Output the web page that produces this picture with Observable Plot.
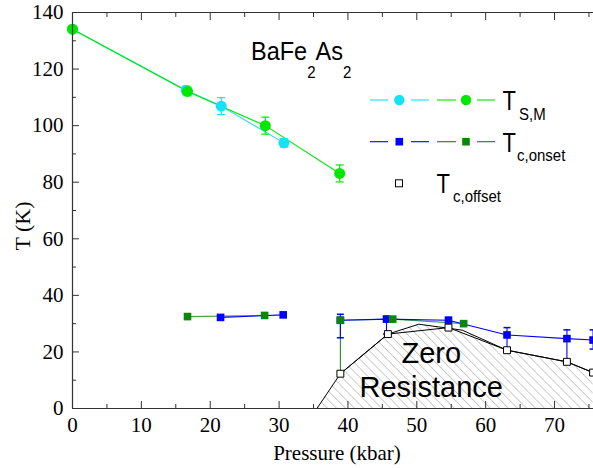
<!DOCTYPE html>
<html><head><meta charset="utf-8">
<script src="https://cdn.jsdelivr.net/npm/d3@7"></script>
<script src="https://cdn.jsdelivr.net/npm/@observablehq/plot@0.6"></script>
<style>body{margin:0;background:#fff} #chart svg{display:block}</style>
</head><body><div id="chart"></div>
<script>
// ---- data ----
const tsmCyanP   = [0, 16.5, 21.6, 30.7];
const tsmCyanT   = [134.1, 112.5, 106.9, 93.9];
const tsmCyanErr = [0, 1.5, 3, 1.5];
const tsmGreenP   = [0, 16.7, 28.0, 38.8];
const tsmGreenT   = [134.1, 112.1, 100.0, 83.1];
const tsmGreenErr = [0, 1.5, 3, 3];

const onsetBlueP   = [21.5, 30.6, 38.9, 45.6, 54.6, 63.1, 71.8, 75.6];
const onsetBlueT   = [32.2, 33.1, 31.2, 31.6, 31.2, 26.0, 24.7, 24.2];
const onsetBlueLo  = [null, null, 25.0, 26.3, 28.6, 21.4, 16.7, 21.0];
const onsetBlueHi  = [null, null, 33.3, 32.6, 32.2, 28.6, 27.8, 27.8];
const onsetBlueSeg = [0, 0, 1, 1, 1, 1, 1, 1];
const onsetGreenP   = [16.7, 27.9, 38.9, 46.5, 56.8];
const onsetGreenT   = [32.5, 32.9, 31.2, 31.6, 30.0];
const onsetGreenLo  = [null, null, 12.3, null, null];
const onsetGreenSeg = [0, 0, 1, 1, 1];

const offsetP = [38.9, 45.8, 54.6, 63.1, 71.8, 75.6];
const offsetT = [12.3, 26.3, 28.6, 20.6, 16.5, 12.7];

const zeroBoundP = [35.5, 38.9, 45.8, 50.3, 56.6, 63.1, 71.8, 75.6];
const zeroBoundT = [0, 12.3, 26.3, 29.8, 27.7, 20.6, 16.5, 12.7];

const xTicks = [0, 10, 20, 30, 40, 50, 60, 70];
const xMinor = [5, 15, 25, 35, 45, 55, 65, 75];
const yTicks = [0, 20, 40, 60, 80, 100, 120, 140];
const yMinor = [10, 30, 50, 70, 90, 110, 130];

const xLabel = "Pressure (kbar)";
const yLabel = "T (K)";
const zeroText = "Zero\nResistance";
const zeroPos = {p: 52.1, t: 14.0};

// ---- styles ----
const C_CYAN = "#12e4f6", C_LIME = "#00e800", C_BLUE = "#0000ff", C_DGREEN = "#0a870a";
const SANS = "Liberation Sans, Arimo, Arial, sans-serif";
const SERIF = "Liberation Serif, Tinos, Times New Roman, serif";

// ---- tables ----
const tsm = [
  ...tsmCyanP.map((p, i) => ({p, t: tsmCyanT[i], e: tsmCyanErr[i], s: "cyan"})),
  ...tsmGreenP.map((p, i) => ({p, t: tsmGreenT[i], e: tsmGreenErr[i], s: "lime"}))
];
const tsmErr = tsm.filter(d => d.e > 0).map(d => ({p: d.p, lo: d.t - d.e, hi: d.t + d.e, s: d.s}));
const blue = onsetBlueP.map((p, i) => ({p, t: onsetBlueT[i], lo: onsetBlueLo[i], hi: onsetBlueHi[i], seg: onsetBlueSeg[i]}));
const dgreen = onsetGreenP.map((p, i) => ({p, t: onsetGreenT[i], lo: onsetGreenLo[i], seg: onsetGreenSeg[i]}));
const offset = offsetP.map((p, i) => ({p, t: offsetT[i]}));
const bound = zeroBoundP.map((p, i) => ({p, t: zeroBoundT[i]}));
const blueErr = blue.filter(d => d.lo != null);
const greenErr = dgreen.filter(d => d.lo != null);

const capSymbol = {draw(ctx, size) { const r = Math.sqrt(size / Math.PI); ctx.moveTo(-r, 0); ctx.lineTo(r, 0); }};
const colorOf = s => s === "cyan" ? C_CYAN : C_LIME;

const plot = Plot.plot({
  width: 593, height: 468,
  marginLeft: 72, marginRight: 0, marginTop: 12, marginBottom: 60,
  x: {domain: [0, 75.66]},
  y: {domain: [0, 140]},
  style: {fontFamily: SERIF, fontSize: "21px", background: "#fff", color: "#000", overflow: "hidden"},
  marks: [
    Plot.areaY(bound, {x: "p", y: "t", fill: "url(#hatch)", clip: true}),
    Plot.line(bound, {x: "p", y: "t", stroke: "#000", strokeWidth: 1, clip: true}),
    Plot.text([zeroPos], {x: "p", y: "t", text: () => zeroText, fontFamily: SANS, fontSize: 29, lineHeight: 1.2, fill: "#000"}),
    // T_S,M
    Plot.line(tsm, {x: "p", y: "t", z: "s", stroke: d => colorOf(d.s), strokeWidth: 1.1, clip: true}),
    Plot.ruleX(tsmErr, {x: "p", y1: "lo", y2: "hi", stroke: d => colorOf(d.s), strokeWidth: 1.2}),
    Plot.dot(tsmErr, {x: "p", y: "lo", symbol: capSymbol, r: 4, stroke: d => colorOf(d.s), fill: "none", strokeWidth: 1.2}),
    Plot.dot(tsmErr, {x: "p", y: "hi", symbol: capSymbol, r: 4, stroke: d => colorOf(d.s), fill: "none", strokeWidth: 1.2}),
    Plot.dot(tsm.filter(d => d.s === "cyan"), {x: "p", y: "t", r: 5.5, fill: C_CYAN, stroke: "none"}),
    Plot.dot(tsm.filter(d => d.s === "lime"), {x: "p", y: "t", r: 5.5, fill: C_LIME, stroke: "none"}),
    // T_c,offset
    Plot.line(offset, {x: "p", y: "t", stroke: "#000", strokeWidth: 1, clip: true}),
    // T_c,onset
    Plot.line(dgreen, {x: "p", y: "t", z: "seg", stroke: C_DGREEN, strokeOpacity: 0.75, strokeWidth: 1.2, clip: true}),
    Plot.ruleX(greenErr, {x: "p", y1: "lo", y2: "t", stroke: C_DGREEN, strokeWidth: 1}),
    Plot.line(blue, {x: "p", y: "t", z: "seg", stroke: C_BLUE, strokeWidth: 1.1, clip: true}),
    Plot.ruleX(blueErr, {x: "p", y1: "lo", y2: "hi", stroke: C_BLUE, strokeWidth: 1.1, clip: true}),
    Plot.dot(blueErr, {x: "p", y: "lo", symbol: capSymbol, r: 3.5, stroke: C_BLUE, fill: "none", clip: true}),
    Plot.dot(blueErr, {x: "p", y: "hi", symbol: capSymbol, r: 3.5, stroke: C_BLUE, fill: "none", clip: true}),
    Plot.dot(offset, {x: "p", y: "t", symbol: "square", r: 3.9, fill: "#fff", stroke: "#000", strokeWidth: 1, clip: true}),
    Plot.dot(blue, {x: "p", y: "t", symbol: "square", r: 4.3, fill: C_BLUE, stroke: "none", clip: true}),
    Plot.dot(dgreen, {x: "p", y: "t", symbol: "square", r: 4.3, fill: C_DGREEN, stroke: "none", clip: true}),
    // frame & axes
    Plot.ruleX([0], {stroke: "#333", strokeWidth: 1.2}),
    Plot.ruleY([0], {stroke: "#333", strokeWidth: 1.2}),
    Plot.ruleY([140], {stroke: "#333", strokeWidth: 1.2}),
    Plot.axisX({ticks: xTicks, tickSize: -7, fill: "none", label: null, stroke: "#333"}),
    Plot.axisX({ticks: xMinor, tickSize: -4, fill: "none", label: null, stroke: "#333"}),
    Plot.axisX({anchor: "top", ticks: xTicks, tickSize: -7, fill: "none", label: null, stroke: "#333"}),
    Plot.axisX({anchor: "top", ticks: xMinor, tickSize: -4, fill: "none", label: null, stroke: "#333"}),
    Plot.axisX({ticks: xTicks, tickSize: 0, tickPadding: 9, label: null, tickFormat: d => String(d), fontSize: 21, fontFamily: SERIF}),
    Plot.axisY({ticks: yTicks, tickSize: -7, fill: "none", label: null, stroke: "#333"}),
    Plot.axisY({ticks: yMinor, tickSize: -4, fill: "none", label: null, stroke: "#333"}),
    Plot.axisY({ticks: yTicks, tickSize: 0, tickPadding: 9, label: null, tickFormat: d => String(d), fontSize: 21, fontFamily: SERIF})
  ]
});

document.getElementById("chart").appendChild(plot);
const svg = d3.select(plot);

// hatch pattern
const defs = svg.insert("defs", ":first-child");
const pat = defs.append("pattern").attr("id", "hatch").attr("patternUnits", "userSpaceOnUse")
  .attr("width", 6.4).attr("height", 6.4).attr("patternTransform", "rotate(-45)");
pat.append("line").attr("x1", 0).attr("y1", 0).attr("x2", 0).attr("y2", 6.4)
  .attr("stroke", "#9a9a9a").attr("stroke-width", 1);

// sans text helper (stretched vertically like the reference)
function sansText(g, x, y, s, size, stretch) {
  return g.append("text").attr("transform", `translate(${x},${y}) scale(1,${stretch})`)
    .attr("text-anchor", "start").style("font-family", SANS).style("font-size", size + "px")
    .attr("fill", "#000").text(s);
}

// title: BaFe2As2 with subscripts
const title = svg.append("text").attr("transform", "translate(251,60) scale(1,1.08)")
  .attr("text-anchor", "start").style("font-family", SANS).style("font-size", "23.5px").attr("fill", "#000");
[["BaFe", 0], ["2", 1], ["As", 0], ["2", 1]].reduce((cur, [s, sub]) => {
  const off = sub ? 16.5 : 0;
  title.append("tspan").attr("dy", off - cur).style("font-size", (sub ? 15 : 23.5) + "px").text(s);
  return off;
}, 0);

// axis labels
svg.append("text").attr("x", 337).attr("y", 460).attr("text-anchor", "middle")
  .style("font-family", SERIF).style("font-size", "21px").text(xLabel);
svg.append("text").attr("transform", "translate(30,226) rotate(-90)").attr("text-anchor", "middle")
  .style("font-family", SERIF).style("font-size", "22px").text(yLabel);

// legend
const lg = svg.append("g");
function legendRow(yy, c1, c2, shape) {
  const segs = [[370, 388, c1], [411, 429, c1], [437, 456, c2], [477, 495, c2]];
  segs.forEach(([a, b, c]) => lg.append("line").attr("x1", a).attr("x2", b).attr("y1", yy).attr("y2", yy)
    .attr("stroke", c).attr("stroke-width", 1.1));
  [[399.3, c1], [466, c2]].forEach(([cx, c]) => {
    if (shape === "circle") lg.append("circle").attr("cx", cx).attr("cy", yy).attr("r", 5.2).attr("fill", c);
    else lg.append("rect").attr("x", cx - 3.8).attr("y", yy - 3.8).attr("width", 7.6).attr("height", 7.6).attr("fill", c);
  });
}
legendRow(100, C_CYAN, C_LIME, "circle");
legendRow(141.7, C_BLUE, C_DGREEN, "square");
lg.append("rect").attr("x", 395.5).attr("y", 179.8).attr("width", 7).attr("height", 7)
  .attr("fill", "#fff").attr("stroke", "#000").attr("stroke-width", 1);
sansText(lg, 502.5, 110, "T", 22, 1.25);
sansText(lg, 519, 119.5, "S,M", 15, 1.05);
sansText(lg, 502.5, 151.7, "T", 22, 1.25);
sansText(lg, 517, 161, "c,onset", 15, 1.05);
sansText(lg, 436.5, 193.3, "T", 22, 1.25);
sansText(lg, 453, 201.7, "c,offset", 15, 1.05);
</script>
</body></html>
